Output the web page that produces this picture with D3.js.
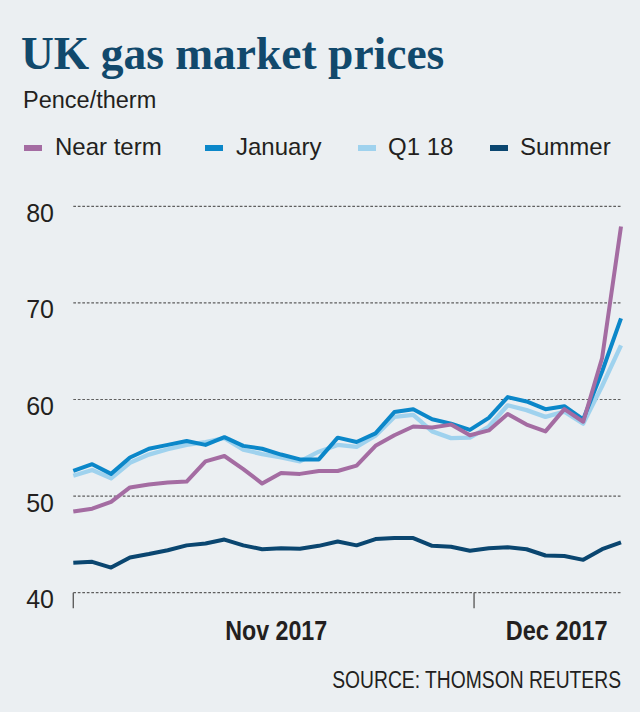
<!DOCTYPE html>
<html>
<head>
<meta charset="utf-8">
<script src="https://cdn.jsdelivr.net/npm/d3@7"></script>
<style>
  html, body { margin: 0; padding: 0; background: #ebeff2; }
  svg { display: block; }
</style>
</head>
<body>
<div id="chart"></div>
<script>
// ---------------- DATA ----------------
const dates = [
  "2017-11-01","2017-11-02","2017-11-03","2017-11-06","2017-11-07","2017-11-08","2017-11-09","2017-11-10",
  "2017-11-13","2017-11-14","2017-11-15","2017-11-16","2017-11-17","2017-11-20","2017-11-21","2017-11-22",
  "2017-11-23","2017-11-24","2017-11-27","2017-11-28","2017-11-29","2017-11-30","2017-12-01","2017-12-04",
  "2017-12-05","2017-12-06","2017-12-07","2017-12-08","2017-12-11","2017-12-12"
];
const nearTerm = [48.4, 48.7, 49.4, 50.9, 51.2, 51.4, 51.5, 53.6, 54.15, 52.8, 51.3, 52.4, 52.3, 52.6, 52.6, 53.15,
  55.2, 56.3, 57.2, 57.1, 57.4, 56.3, 56.8, 58.5, 57.4, 56.7, 59.0, 57.7, 64.3, 77.9];
const january = [52.6, 53.3, 52.3, 54.0, 54.9, 55.3, 55.7, 55.3, 56.1, 55.2, 54.9, 54.3, 53.8, 53.8, 56.05, 55.6,
  56.5, 58.7, 59.0, 57.95, 57.5, 56.85, 58.1, 60.25, 59.8, 59.0, 59.3, 57.95, 62.9, 68.4];
const q118 = [52.1, 52.7, 51.85, 53.45, 54.3, 54.85, 55.3, 55.6, 56.0, 54.8, 54.35, 54.0, 53.6, 54.6, 55.3, 55.1,
  56.25, 58.2, 58.4, 56.7, 56.0, 56.05, 57.2, 59.4, 58.9, 58.2, 58.75, 57.5, 61.4, 65.6];
const summer = [43.1, 43.2, 42.6, 43.65, 44.0, 44.4, 44.9, 45.1, 45.5, 44.9, 44.5, 44.6, 44.55, 44.85, 45.3, 44.9,
  45.55, 45.65, 45.65, 44.85, 44.75, 44.35, 44.6, 44.7, 44.5, 43.85, 43.8, 43.4, 44.5, 45.2];

const seriesNames = ["Near term", "January", "Q1 18", "Summer"];
const seriesColors = ["#a46ca2", "#0b87c9", "#9fd2ee", "#0a4670"];
const yTicks = [40, 50, 60, 70, 80];
const monthTickDates = ["2017-11-01", "2017-12-01"];
const monthLabels = ["Nov 2017", "Dec 2017"];
const monthLabelDates = ["2017-11-16", "2017-12-07"];

const titleText = "UK gas market prices";
const subtitleText = "Pence/therm";
const sourceText = "SOURCE: THOMSON REUTERS";

// ---------------- SETUP ----------------
const W = 640, H = 712;
const parse = d3.utcParse("%Y-%m-%d");
const dateObjs = dates.map(parse);
const SANS = '"Liberation Sans", Arial, sans-serif';

const svg = d3.select("#chart").append("svg")
  .attr("width", W).attr("height", H)
  .style("background", "#ebeff2");

const plotLeft = 73.3, plotRight = 621;
const x = d3.scaleLinear().domain([0, dates.length - 1]).range([plotLeft, plotRight]);
const xTime = d3.scaleUtc().domain([dateObjs[0], dateObjs[dateObjs.length - 1]]).range([plotLeft, plotRight]);
const y = d3.scaleLinear().domain([40, 80]).range([592.7, 206.3]);

// condensed text: draws real text, horizontally scaled to a target width
function condensedText(parent, str, px, py, anchor, size, weight, targetW) {
  const g = parent.append("g");
  const t = g.append("text")
    .attr("font-family", SANS)
    .attr("font-size", size)
    .attr("font-weight", weight)
    .attr("fill", "#231f20")
    .attr("text-anchor", anchor)
    .text(str);
  const w = t.node().getComputedTextLength();
  const sx = w > 0 ? targetW / w : 1;
  g.attr("transform", `translate(${px},${py}) scale(${sx},1)`);
  return g;
}

// ---------------- TITLES ----------------
svg.append("text")
  .attr("x", 21).attr("y", 69)
  .attr("font-family", '"Liberation Serif", "DejaVu Serif", serif')
  .attr("font-weight", "bold")
  .attr("font-size", 45.5)
  .attr("fill", "#11496c")
  .text(titleText);

svg.append("text")
  .attr("x", 23).attr("y", 108)
  .attr("font-family", SANS)
  .attr("font-size", 23.5)
  .attr("fill", "#231f20")
  .text(subtitleText);

// ---------------- LEGEND ----------------
const legendSwatchX = [24, 205, 358, 490];
const legendTextX = [55, 236, 388, 520];
const legend = svg.append("g");
seriesNames.forEach((name, i) => {
  legend.append("rect")
    .attr("x", legendSwatchX[i]).attr("y", 145)
    .attr("width", 18).attr("height", 6)
    .attr("fill", seriesColors[i]);
  legend.append("text")
    .attr("x", legendTextX[i]).attr("y", 155)
    .attr("font-family", SANS)
    .attr("font-size", 24)
    .attr("fill", "#231f20")
    .text(name);
});

// ---------------- GRID + Y AXIS ----------------
const grid = svg.append("g");
yTicks.forEach(v => {
  grid.append("line")
    .attr("x1", plotLeft).attr("x2", plotRight)
    .attr("y1", y(v)).attr("y2", y(v))
    .attr("stroke", "#5f5f5f")
    .attr("stroke-width", 1.2)
    .attr("stroke-dasharray", "2.7,1.8");
  grid.append("text")
    .attr("x", 54).attr("y", y(v) + 15.5)
    .attr("text-anchor", "end")
    .attr("font-family", SANS)
    .attr("font-size", 25)
    .attr("fill", "#231f20")
    .text(v);
});

// month ticks
monthTickDates.forEach(d => {
  const xx = xTime(parse(d));
  svg.append("line")
    .attr("x1", xx).attr("x2", xx)
    .attr("y1", y(40)).attr("y2", y(40) + 15.5)
    .attr("stroke", "#5f5f5f").attr("stroke-width", 1.4);
});
monthLabels.forEach((lab, i) => {
  condensedText(svg, lab, xTime(parse(monthLabelDates[i])) + 2.5, 640, "middle", 28, "bold", 102);
});

// ---------------- LINES ----------------
const line = d3.line().x((d, i) => x(i)).y(d => y(d));
const drawOrder = [3, 2, 1, 0];
const allSeries = [nearTerm, january, q118, summer];
const widths = [4, 4, 4.3, 4];
drawOrder.forEach(k => {
  svg.append("path")
    .datum(allSeries[k])
    .attr("d", line)
    .attr("fill", "none")
    .attr("stroke", seriesColors[k])
    .attr("stroke-width", widths[k])
    .attr("stroke-linejoin", "round")
    .attr("stroke-linecap", "butt");
});

// ---------------- SOURCE ----------------
condensedText(svg, sourceText, 621, 688, "end", 24.5, "normal", 289);
</script>
</body>
</html>
